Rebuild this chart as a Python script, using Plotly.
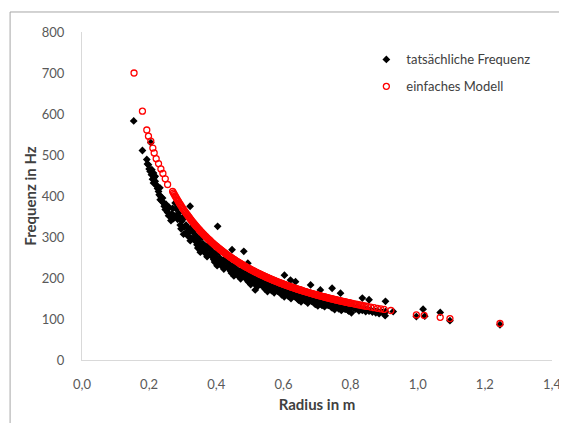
import plotly.graph_objects as go

# ---------------- data ----------------
# "einfaches Modell" (model frequency vs. radius)
r_model = [0.155, 0.180, 0.193, 0.198, 0.205, 0.211, 0.215, 0.221, 0.228, 0.235, 0.241, 0.248, 0.255,
           0.270, 0.275, 0.280, 0.285, 0.290, 0.295, 0.300, 0.305, 0.310, 0.315, 0.320, 0.325, 0.330,
           0.335, 0.340, 0.345, 0.350, 0.355, 0.360, 0.365, 0.370, 0.375, 0.380, 0.385, 0.390, 0.395,
           0.400, 0.405, 0.410, 0.415, 0.420, 0.425, 0.430, 0.435, 0.440, 0.445, 0.450, 0.455, 0.460,
           0.465, 0.470, 0.475, 0.480, 0.485, 0.490, 0.495, 0.500, 0.505, 0.510, 0.515, 0.520, 0.525,
           0.530, 0.535, 0.540, 0.545, 0.550, 0.555, 0.560, 0.565, 0.570, 0.575, 0.580, 0.585, 0.590,
           0.595, 0.600, 0.605, 0.610, 0.615, 0.620, 0.625, 0.630, 0.635, 0.640, 0.645, 0.650, 0.655,
           0.660, 0.665, 0.670, 0.675, 0.680, 0.685, 0.690, 0.695, 0.700, 0.705, 0.710, 0.715, 0.720,
           0.725, 0.730, 0.735, 0.740, 0.745, 0.750, 0.755, 0.760, 0.765, 0.770, 0.775, 0.780, 0.785,
           0.790, 0.795, 0.800, 0.810, 0.820, 0.830, 0.840, 0.850, 0.860, 0.870, 0.880, 0.890, 0.900,
           0.920, 0.996, 1.019, 1.067, 1.096, 1.245,
           0.2725, 0.2775, 0.2825, 0.2875, 0.2925, 0.2975, 0.3025, 0.3075, 0.3125, 0.3175,
           0.3225, 0.3275, 0.3325, 0.3375, 0.3425, 0.3475, 0.3525, 0.3575, 0.3625, 0.3675,
           0.3725, 0.3775, 0.3825, 0.3875, 0.3925, 0.3975, 0.4025, 0.4075, 0.4125, 0.4175,
           0.4225, 0.4275, 0.4325, 0.4375, 0.4425, 0.4475, 0.4525, 0.4575, 0.4625, 0.4675,
           0.4725, 0.4775, 0.4825, 0.4875, 0.4925, 0.4975, 0.5025, 0.5075, 0.5125, 0.5175,
           0.5225, 0.5275, 0.5325, 0.5375, 0.5425, 0.5475, 0.5525, 0.5575, 0.5625, 0.5675,
           0.5725, 0.5775, 0.5825, 0.5875, 0.5925, 0.5975, 0.6025, 0.6075, 0.6125, 0.6175,
           0.6225, 0.6275, 0.6325, 0.6375, 0.6425, 0.6475, 0.6525, 0.6575, 0.6625, 0.6675,
           0.6725, 0.6775, 0.6825, 0.6875, 0.6925, 0.6975, 0.7025, 0.7075, 0.7125, 0.7175,
           0.7225, 0.7275, 0.7325, 0.7375, 0.7425, 0.7475, 0.7525, 0.7575, 0.7625, 0.7675,
           0.7725, 0.7775, 0.7825, 0.7875, 0.7925, 0.7975,
           0.805, 0.815, 0.825, 0.835, 0.845]
f_model = [700, 607, 561, 546, 534, 517, 505, 491, 479, 466, 455, 442, 428,
           411.1, 403.6, 396.4, 389.5, 382.8, 376.3, 370.0, 363.9, 358.1, 352.4, 346.9, 341.5, 336.4,
           331.3, 326.5, 321.7, 317.1, 312.7, 308.3, 304.1, 300.0, 296.0, 292.1, 288.3, 284.6, 281.0,
           277.5, 274.1, 270.7, 267.5, 264.3, 261.2, 258.1, 255.2, 252.3, 249.4, 246.7, 244.0, 241.3,
           238.7, 236.2, 233.7, 231.3, 228.9, 226.5, 224.2, 222.0, 219.8, 217.6, 215.5, 213.5, 211.4,
           209.4, 207.5, 205.6, 203.7, 201.8, 200.0, 198.2, 196.5, 194.7, 193.0, 191.4, 189.7, 188.1,
           186.6, 185.0, 183.5, 182.0, 180.5, 179.0, 177.6, 176.2, 174.8, 173.4, 172.1, 170.8, 169.5,
           168.2, 166.9, 165.7, 164.4, 163.2, 162.0, 160.9, 159.7, 158.6, 157.4, 156.3, 155.2, 154.2,
           153.1, 152.1, 151.0, 150.0, 149.0, 148.0, 147.0, 146.1, 145.1, 144.2, 143.2, 142.3, 141.4,
           140.5, 139.6, 138.8, 137.0, 135.4, 133.7, 132.1, 130.6, 129.1, 127.6, 126.1, 124.7, 123.3,
           120.7, 110, 109, 104, 101, 89,
           407.3, 400.0, 392.9, 386.1, 379.5, 373.1, 366.9, 361.0, 355.2, 349.6,
           344.2, 338.9, 333.8, 328.9, 324.1, 319.4, 314.9, 310.5, 306.2, 302.0,
           298.0, 294.0, 290.2, 286.5, 282.8, 279.2, 275.8, 272.4, 269.1, 265.9,
           262.7, 259.6, 256.6, 253.7, 250.8, 248.0, 245.3, 242.6, 240.0, 237.4,
           234.9, 232.5, 230.1, 227.7, 225.4, 223.1, 220.9, 218.7, 216.6, 214.5,
           212.4, 210.4, 208.5, 206.5, 204.6, 202.7, 200.9, 199.1, 197.3, 195.6,
           193.9, 192.2, 190.6, 188.9, 187.3, 185.8, 184.2, 182.7, 181.2, 179.8,
           178.3, 176.9, 175.5, 174.1, 172.8, 171.4, 170.1, 168.8, 167.5, 166.3,
           165.1, 163.8, 162.6, 161.5, 160.3, 159.1, 158.0, 156.9, 155.8, 154.7,
           153.6, 152.6, 151.5, 150.5, 149.5, 148.5, 147.5, 146.5, 145.6, 144.6,
           143.7, 142.8, 141.9, 141.0, 140.1, 139.2,
           137.9, 136.2, 134.5, 132.9, 131.4]

# "tatsächliche Frequenz" (measured frequency vs. radius)
r_meas = [0.154, 0.180, 0.193, 0.195, 0.198, 0.200, 0.203, 0.205, 0.207, 0.208, 0.210, 0.213, 0.213,
          0.215, 0.218, 0.218, 0.220, 0.222, 0.225, 0.228, 0.230, 0.232, 0.233, 0.235, 0.238, 0.240,
          0.243, 0.245, 0.248, 0.250, 0.253, 0.255, 0.258, 0.260, 0.263, 0.265, 0.268,
          0.2700, 0.2725, 0.2750, 0.2775, 0.2800, 0.2825, 0.2850, 0.2875, 0.2900, 0.2925,
          0.2950, 0.2975, 0.3000, 0.3025, 0.3050, 0.3075, 0.3100, 0.3125, 0.3150, 0.3175,
          0.3200, 0.3225, 0.3250, 0.3275, 0.3300, 0.3325, 0.3350, 0.3375, 0.3400, 0.3425,
          0.3450, 0.3475, 0.3500, 0.3525, 0.3550, 0.3575, 0.3600, 0.3625, 0.3650, 0.3675,
          0.3700, 0.3725, 0.3750, 0.3775, 0.3800, 0.3825, 0.3850, 0.3875, 0.3900, 0.3925,
          0.3950, 0.3975, 0.4000, 0.4025, 0.4050, 0.4075, 0.4100, 0.4125, 0.4150, 0.4175,
          0.4200, 0.4225, 0.4250, 0.4275, 0.4300, 0.4325, 0.4350, 0.4375, 0.4400, 0.4425,
          0.4450, 0.4475, 0.4500, 0.4525, 0.4550, 0.4575, 0.4600, 0.4625, 0.4650, 0.4675,
          0.4700, 0.4725, 0.4750, 0.4775, 0.4800, 0.4825, 0.4850, 0.4875, 0.4900, 0.4925,
          0.4950, 0.4975, 0.5000, 0.5025, 0.5050, 0.5075, 0.5100, 0.5125, 0.5150, 0.5175,
          0.5200, 0.5225, 0.5250, 0.5275, 0.5300, 0.5325, 0.5350, 0.5375, 0.5400, 0.5425,
          0.5450, 0.5475, 0.5500, 0.5525, 0.5550, 0.5575, 0.5600, 0.5625, 0.5650, 0.5675,
          0.5700, 0.5725, 0.5750, 0.5775, 0.5800, 0.5825, 0.5850, 0.5875, 0.5900, 0.5925,
          0.5950, 0.5975, 0.6000, 0.6025, 0.6050, 0.6075, 0.6100, 0.6125, 0.6150, 0.6175,
          0.6200, 0.6225, 0.6250, 0.6275, 0.6300, 0.6325, 0.6350, 0.6375, 0.6400, 0.6425,
          0.6450, 0.6475, 0.6500, 0.6525, 0.6550, 0.6575, 0.6600, 0.6625, 0.6650, 0.6675,
          0.6700, 0.6725, 0.6750, 0.6775, 0.6800, 0.6825, 0.6850, 0.6875, 0.6900, 0.6925,
          0.6950, 0.6975, 0.7000, 0.7025, 0.7050, 0.7075, 0.7100, 0.7125, 0.7150, 0.7175,
          0.7200, 0.7225, 0.7250, 0.7275, 0.7300, 0.7325, 0.7350, 0.7375, 0.7400, 0.7425,
          0.7450, 0.7475, 0.7500, 0.7525, 0.7550, 0.7575, 0.7600, 0.7625, 0.7650, 0.7675,
          0.7700, 0.7725, 0.7750, 0.7775, 0.7800, 0.7825, 0.7850, 0.7875, 0.7900, 0.7925,
          0.7950, 0.7975, 0.8000, 0.8025,
          0.805, 0.810, 0.815, 0.820, 0.825, 0.830, 0.835, 0.840, 0.845, 0.850, 0.855, 0.860,
          0.865, 0.870, 0.875, 0.880, 0.885, 0.890, 0.895, 0.900, 0.903, 0.904, 0.927,
          0.996, 1.016, 1.021, 1.067, 1.096, 1.245,
          0.322, 0.404, 0.447, 0.482, 0.494, 0.516, 0.603, 0.621, 0.636, 0.681, 0.710, 0.745,
          0.770, 0.835, 0.855, 0.904]
f_meas = [583, 511, 489, 478, 476, 466, 460, 530, 452, 464, 441, 456, 432,
          445, 448, 436, 428, 425, 418, 411, 403, 420, 391, 398, 387, 395,
          383, 375, 367, 380, 367, 360, 352, 372, 350, 340, 357,
          370, 345, 351, 383, 369, 349, 343, 358, 348, 329,
          320, 339, 348, 307, 324, 349, 329, 312, 303, 321,
          312, 291, 297, 324, 313, 296, 292, 305, 297, 281,
          273, 290, 298, 263, 278, 300, 284, 268, 262, 277,
          270, 252, 258, 281, 272, 257, 254, 265, 259, 245,
          239, 253, 261, 230, 244, 263, 249, 236, 230, 243,
          238, 222, 227, 248, 240, 227, 225, 235, 230, 217,
          212, 224, 232, 205, 217, 234, 222, 210, 205, 217,
          213, 198, 203, 222, 215, 204, 201, 211, 206, 195,
          191, 202, 209, 184, 196, 211, 200, 189, 185, 196,
          192, 179, 184, 201, 195, 184, 183, 191, 187, 177,
          173, 183, 190, 167, 178, 192, 182, 172, 169, 179,
          175, 164, 168, 183, 178, 168, 167, 175, 171, 162,
          159, 168, 174, 154, 163, 176, 167, 158, 155, 164,
          161, 150, 155, 169, 164, 155, 154, 161, 158, 149,
          146, 155, 161, 142, 151, 163, 155, 146, 144, 152,
          149, 139, 143, 156, 152, 144, 143, 149, 146, 138,
          136, 144, 149, 132, 140, 151, 144, 136, 133, 141,
          139, 130, 133, 145, 141, 134, 133, 139, 137, 129,
          127, 134, 139, 123, 131, 141, 134, 127, 125, 132,
          130, 121, 125, 136, 132, 125, 124, 130, 128, 121,
          119, 126, 130, 115,
          133, 127, 124, 129, 120, 126, 121, 125, 118, 124, 119, 122,
          117, 121, 115, 119, 113, 118, 116, 114, 108, 118, 118,
          106, 124, 107, 116, 96, 86,
          375, 326, 269, 265, 236, 171, 207, 195, 191, 183, 171, 175,
          163, 151, 147, 143]

x_ticks = [0.0, 0.2, 0.4, 0.6, 0.8, 1.0, 1.2, 1.4]
y_ticks = [0, 100, 200, 300, 400, 500, 600, 700, 800]

# ---------------- figure ----------------
# The page body has an 8px default margin, so the figure is 8px smaller
# and its margins are shifted by 8px to land on the reference positions.
FONT = "Lato, 'Open Sans', sans-serif"
fig = go.Figure()
fig.add_trace(go.Scatter(
    x=r_meas, y=f_meas, mode="markers", name="tatsächliche Frequenz",
    legendgroup="a",
    marker=dict(symbol="diamond", size=6, color="#000000", line=dict(width=0)),
))
fig.add_trace(go.Scatter(
    x=r_model, y=f_model, mode="markers", name="einfaches Modell",
    legendgroup="b",
    marker=dict(symbol="circle-open", size=6, color="#ff0000", line=dict(width=1.3, color="#ff0000")),
))

fig.update_layout(
    width=559, height=415,
    margin=dict(l=74, r=15, t=24, b=63, autoexpand=False),
    paper_bgcolor="white", plot_bgcolor="white",
    separators=",.",
    font=dict(family=FONT, size=13, color="#595959"),
    showlegend=True,
    legend=dict(x=0.605, y=0.962, xanchor="left", yanchor="top",
                font=dict(family=FONT, size=13, color="#404040"),
                bgcolor="rgba(0,0,0,0)", tracegroupgap=7, traceorder="grouped",
                itemwidth=30),
    xaxis=dict(range=[0, 1.4], tickvals=x_ticks, tickformat=".1f", automargin=False,
               showgrid=False, zeroline=False, showline=True, linecolor="#d9d9d9", linewidth=1,
               ticks="", ticklabelstandoff=12,
               title=dict(text="<b>Radius in m</b>", font=dict(family=FONT, size=15, color="#404040"),
                          standoff=8)),
    yaxis=dict(range=[0, 800], tickvals=y_ticks, automargin=False,
               showgrid=False, zeroline=False, showline=True, linecolor="#d9d9d9", linewidth=1,
               ticks="", ticklabelstandoff=14,
               title=dict(text="<b>Frequenz in Hz</b>", font=dict(family=FONT, size=15, color="#404040"),
                          standoff=1)),
    shapes=[dict(type="rect", xref="paper", yref="paper",
                 x0=-0.153, x1=1.2, y0=-0.3, y1=1.061,
                 line=dict(color="#a6a6a6", width=1), fillcolor="rgba(0,0,0,0)", layer="below")],
)

fig.write_html("out.html")
